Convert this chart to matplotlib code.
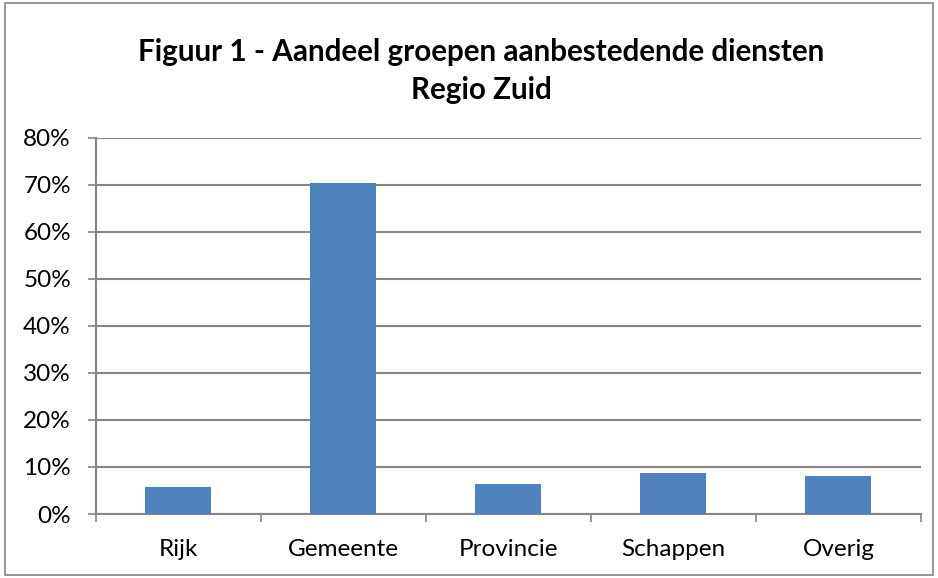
import matplotlib
matplotlib.use("Agg")
import matplotlib.pyplot as plt
import numpy as np
from matplotlib.patches import Rectangle
from matplotlib.ticker import FixedLocator, PercentFormatter

categories = ["Rijk", "Gemeente", "Provincie", "Schappen", "Overig"]
shares = [5.7, 70.4, 6.3, 8.7, 8.0]
y_ticks = [0, 10, 20, 30, 40, 50, 60, 70, 80]

plt.rcParams["font.family"] = ["Lato", "DejaVu Sans"]

GRID = "#868686"
BAR = "#4f81bd"

fig = plt.figure(figsize=(9.38, 5.78), dpi=100)
ax = fig.add_axes([0.1023, 0.1107, 0.8795, 0.6511])

x = np.arange(len(categories))
ax.bar(x, shares, width=0.4, color=BAR, zorder=3)

ax.set_xlim(-0.5, len(categories) - 0.5)
ax.set_ylim(0, 80)
ax.set_yticks(y_ticks)
ax.yaxis.set_major_formatter(PercentFormatter(decimals=0))
ax.grid(axis="y", color=GRID, linewidth=1.5, zorder=0)

# categorienamen in het midden, streepjes op de grenzen
ax.set_xticks(x)
ax.set_xticklabels(categories)
ax.xaxis.set_minor_locator(FixedLocator(np.arange(-0.5, len(categories), 1.0)))
ax.tick_params(axis="x", which="major", length=0, pad=18, labelsize=17.5)
ax.tick_params(axis="x", which="minor", length=6, width=1.2, color=GRID, direction="out")
ax.tick_params(axis="y", length=6, width=1.2, color=GRID, labelsize=17.5, pad=12)

for side in ["top", "right"]:
    ax.spines[side].set_visible(False)
for side in ["left", "bottom"]:
    ax.spines[side].set_color(GRID)
    ax.spines[side].set_linewidth(1.5)

fig.text(0.513, 0.91, "Figuur 1 - Aandeel groepen aanbestedende diensten",
         ha="center", va="center", fontsize=21.3, fontweight="bold")
fig.text(0.513, 0.845, "Regio Zuid", ha="center", va="center",
         fontsize=21.3, fontweight="bold")

fig.patches.append(Rectangle((0.005, 0.005), 0.99, 0.99, transform=fig.transFigure,
                             fill=False, edgecolor=GRID, linewidth=1.2))

fig.savefig("out.png", dpi=100)
